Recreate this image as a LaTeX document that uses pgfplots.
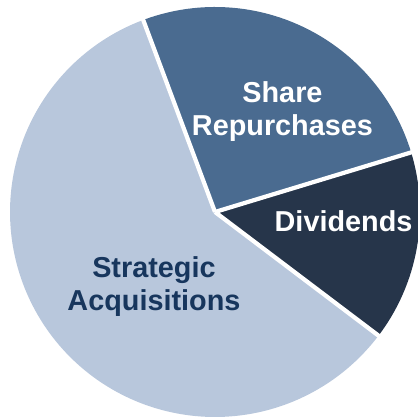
\documentclass[border=0pt]{standalone}
\usepackage{pgfplots}
\usepackage{pgfplotstable}
\pgfplotsset{compat=1.18}
\usepackage{fontspec}
\setmainfont{Liberation Sans}
\definecolor{cSA}{HTML}{B8C7DC}
\definecolor{cSR}{HTML}{4A6B90}
\definecolor{cDV}{HTML}{26354A}
\definecolor{cTX}{HTML}{17365D}
\pgfplotstableread{
label value
Strategic 59
Dividends 15
Share 26
}\piedata
\pgfplotstablegetelem{0}{value}\of\piedata \let\vA\pgfplotsretval
\pgfplotstablegetelem{1}{value}\of\piedata \let\vB\pgfplotsretval
\pgfplotstablegetelem{2}{value}\of\piedata \let\vC\pgfplotsretval
\pgfmathsetmacro{\aA}{110.5}
\pgfmathsetmacro{\aB}{\aA+3.6*\vA}
\pgfmathsetmacro{\aC}{\aB+3.6*\vB}
\pgfmathsetmacro{\aD}{\aC+3.6*\vC}
\begin{document}
\begin{tikzpicture}
\begin{axis}[
  scale only axis, width=10.45cm, height=10.425cm,
  hide axis,
  xmin=-1.0488, xmax=0.9902, ymin=-1.0, ymax=1.0341,
]
\addplot[fill=cSA, draw=none, domain=\aA:\aB, samples=150, variable=\t] ({cos(t)},{sin(t)}) -- (axis cs:0,0) -- cycle;
\addplot[fill=cDV, draw=none, domain=\aB:\aC, samples=60, variable=\t] ({cos(t)},{sin(t)}) -- (axis cs:0,0) -- cycle;
\addplot[fill=cSR, draw=none, domain=\aC:\aD, samples=80, variable=\t] ({cos(t)},{sin(t)}) -- (axis cs:0,0) -- cycle;
\addplot[white, line width=3pt, domain=0:1.05, samples=2] ({x*cos(\aA)},{x*sin(\aA)});
\addplot[white, line width=3pt, domain=0:1.05, samples=2] ({x*cos(\aB)},{x*sin(\aB)});
\addplot[white, line width=3pt, domain=0:1.05, samples=2] ({x*cos(\aC)},{x*sin(\aC)});
\node[text=white, font=\fontsize{20.5}{23.5}\selectfont\bfseries, align=center] at (axis cs:0.329,0.488) {Share\\Repurchases};
\node[text=white, font=\fontsize{20.5}{23.5}\selectfont\bfseries, align=center] at (axis cs:0.627,-0.045) {Dividends};
\node[text=cTX, font=\fontsize{20.5}{23.5}\selectfont\bfseries, align=center] at (axis cs:-0.298,-0.362) {Strategic\\Acquisitions};
\end{axis}
\pgfresetboundingbox
\path[use as bounding box] (current axis.south west) rectangle (current axis.north east);
\end{tikzpicture}
\end{document}
